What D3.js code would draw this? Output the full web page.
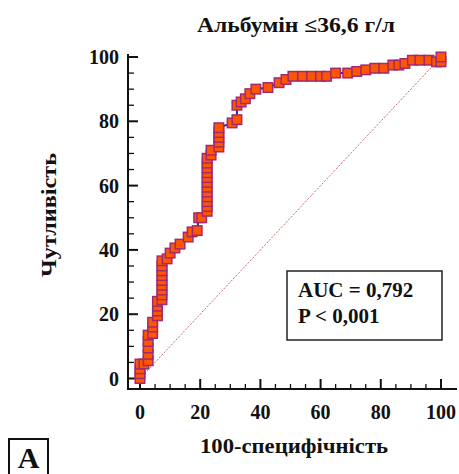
<!DOCTYPE html>
<html>
<head>
<meta charset="utf-8">
<script src="https://cdn.jsdelivr.net/npm/d3@7"></script>
<style>
  html, body { margin: 0; padding: 0; background: #fff; }
  svg { display: block; }
  text { font-family: "Liberation Serif", "DejaVu Serif", serif; font-weight: bold; fill: #111; }
</style>
</head>
<body>
<svg id="chart" width="459" height="474"></svg>
<script>
// ROC curve data: 100-specificity (%) and sensitivity (%)
const fpr = [0, 0, 0, 0, 1.3, 2.7, 2.7, 2.7, 2.7, 2.7, 4.2, 4.2, 4.2,
  5.8, 5.8, 5.8, 5.8, 7.3, 7.3, 7.3, 7.3, 7.3, 7.3, 7.3, 7.3, 7.3,
  9, 10, 11.6, 13.3, 16, 17.3, 19, 19.5, 20.5,
  22.3, 22.3, 22.3, 22.3, 22.3, 22.3, 22.3, 22.3, 22.3, 22.3, 22.3, 22.3,
  23.6, 23.6, 26.2, 26.2, 26.2, 26.2, 26.2, 30.6, 32.2, 32.2,
  33.6, 35, 36.5, 38.5, 42.5, 46.2, 48.5, 50.8, 54, 57, 60, 62,
  65, 69, 72, 75, 78, 81, 84, 86, 88, 90.5, 93, 96, 98.5, 100, 100];
const tpr = [0, 1.5, 3, 4.5, 4.5, 5.5, 7.5, 9.5, 11.5, 13.5, 14, 16, 17.5,
  19.5, 21, 22.5, 24, 24.5, 26, 27.5, 29, 30.5, 32, 33.5, 35, 36.6,
  37.2, 39, 40.6, 41.8, 44, 45.6, 46, 50, 50,
  52, 53.5, 55, 56.5, 58, 59.5, 61, 62.5, 64, 65.5, 67, 68.5,
  69.5, 71, 72, 73.5, 75, 76.5, 78, 79.5, 80.5, 85,
  86, 87, 88.6, 90, 90.5, 92, 93, 94, 94, 94, 94, 94,
  95, 95, 95.5, 96, 96.5, 96.5, 97.5, 97.5, 98, 99, 99, 99, 98.5, 98.5, 100];
const xTicks = [0, 20, 40, 60, 80, 100];
const yTicks = [0, 20, 40, 60, 80, 100];
const titleText = "Альбумін  ≤36,6 г/л";
const xTitle = "100-специфічність";
const yTitle = "Чутливість";
const statLines = ["AUC = 0,792", "P < 0,001"];
const panelLabel = "A";

const svg = d3.select("#chart");
const x = d3.scaleLinear().domain([0, 100]).range([140, 441]);
const y = d3.scaleLinear().domain([0, 100]).range([378.5, 57]);
const axisX = 128, axisY = 389;

// diagonal reference line
svg.append("line")
  .attr("x1", x(0)).attr("y1", y(0)).attr("x2", x(100)).attr("y2", y(100))
  .attr("stroke", "#c0505a").attr("stroke-width", 1).attr("stroke-dasharray", "2,1.5")
  .attr("opacity", 0.85);

// axes lines
svg.append("line").attr("x1", axisX).attr("x2", axisX).attr("y1", 54).attr("y2", axisY + 1)
  .attr("stroke", "#111").attr("stroke-width", 2);
svg.append("line").attr("x1", axisX - 1).attr("x2", 457).attr("y1", axisY).attr("y2", axisY)
  .attr("stroke", "#111").attr("stroke-width", 2);

// ticks (major + minor, pointing inward)
const minor = d3.range(0, 101, 5);
minor.forEach(v => {
  const major = v % 20 === 0;
  svg.append("line").attr("x1", x(v)).attr("x2", x(v))
    .attr("y1", axisY).attr("y2", axisY - (major ? 10 : 5))
    .attr("stroke", "#111").attr("stroke-width", major ? 2 : 1.3);
  svg.append("line").attr("y1", y(v)).attr("y2", y(v))
    .attr("x1", axisX).attr("x2", axisX + (major ? 10 : 6))
    .attr("stroke", "#111").attr("stroke-width", major ? 2 : 1.3);
});

// tick labels
svg.selectAll(".xl").data(xTicks).enter().append("text")
  .attr("x", d => x(d)).attr("y", 419).attr("text-anchor", "middle")
  .attr("font-size", 20).text(d => d);
svg.selectAll(".yl").data(yTicks).enter().append("text")
  .attr("x", 119).attr("y", d => y(d) + 7).attr("text-anchor", "end")
  .attr("font-size", 20).text(d => d);

// ROC line
const pts = fpr.map((f, i) => [f, tpr[i]]);
svg.append("path").datum(pts)
  .attr("d", d3.line().x(d => x(d[0])).y(d => y(d[1])))
  .attr("fill", "none").attr("stroke", "#2a2a9a").attr("stroke-width", 2);

// markers
const s = 9.5;
svg.selectAll(".m").data(pts).enter().append("rect")
  .attr("x", d => x(d[0]) - s / 2).attr("y", d => y(d[1]) - s / 2)
  .attr("width", s).attr("height", s)
  .attr("fill", "#ff5500").attr("stroke", "#a02a70").attr("stroke-width", 1.5);

// title
svg.append("text").attr("x", 197).attr("y", 32)
  .attr("font-size", 20).attr("textLength", 198).attr("lengthAdjust", "spacingAndGlyphs")
  .text(titleText);

// axis titles
svg.append("text").attr("x", 200).attr("y", 453)
  .attr("font-size", 20).attr("textLength", 188).attr("lengthAdjust", "spacingAndGlyphs")
  .text(xTitle);
svg.append("text").attr("transform", "translate(56,277) rotate(-90)")
  .attr("font-size", 20).attr("textLength", 124).attr("lengthAdjust", "spacingAndGlyphs")
  .text(yTitle);

// stats box
svg.append("rect").attr("x", 287).attr("y", 271).attr("width", 155).attr("height", 69)
  .attr("fill", "#fff").attr("stroke", "#222").attr("stroke-width", 1.5);
statLines.forEach((t, i) => {
  svg.append("text").attr("x", 298).attr("y", 297 + i * 26)
    .attr("font-size", 21).text(t);
});

// panel label
svg.append("rect").attr("x", 9).attr("y", 439).attr("width", 39).attr("height", 45)
  .attr("fill", "#fff").attr("stroke", "#111").attr("stroke-width", 2);
svg.append("text").attr("x", 28.5).attr("y", 468).attr("text-anchor", "middle")
  .attr("font-size", 30).text(panelLabel);
</script>
</body>
</html>
